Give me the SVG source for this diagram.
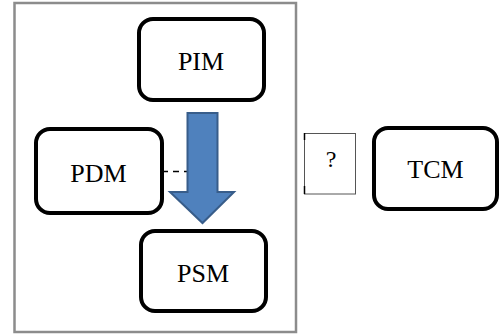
<svg xmlns="http://www.w3.org/2000/svg" width="501" height="335" viewBox="0 0 501 335">
  <style>
    .node { fill: #ffffff; stroke: #000000; stroke-width: 4; }
    .lbl { font-family: "Liberation Serif", "Times New Roman", serif; font-size: 26px; fill: #000000; text-anchor: middle; }
    .q { font-family: "Liberation Serif", "Times New Roman", serif; font-size: 24px; fill: #000000; text-anchor: middle; }
  </style>
  <rect width="501" height="335" fill="#ffffff"/>
  <g id="frame">
    <rect x="14.5" y="3" width="281.5" height="329" fill="#ffffff" stroke="#8c8c8c" stroke-width="2.5"/>
  </g>
  <g id="connectors">
    <line x1="162" y1="171.5" x2="187" y2="171.5" stroke="#000000" stroke-width="1.5" stroke-dasharray="6,5"/>
    <polygon points="187.5,113 217.5,113 217.5,192 234,192 202.5,223 170,192 187.5,192" fill="#4f81bd" stroke="#385d8a" stroke-width="2"/>
  </g>
  <g id="pim">
    <rect class="node" x="139" y="19" width="125" height="81" rx="14"/>
    <text class="lbl" x="201" y="70">PIM</text>
  </g>
  <g id="pdm">
    <rect class="node" x="36" y="129" width="126" height="84" rx="14"/>
    <text class="lbl" x="98.5" y="182">PDM</text>
  </g>
  <g id="psm">
    <rect class="node" x="141" y="231" width="125" height="80" rx="14"/>
    <text class="lbl" x="203" y="282">PSM</text>
  </g>
  <g id="question">
    <rect x="304.5" y="133.5" width="51" height="60.5" fill="#ffffff" stroke="#555555" stroke-width="1"/>
    <path d="M304.5,133 V140 M304.5,186 V194" stroke="#000000" stroke-width="1.5" fill="none"/>
    <text class="q" x="331" y="167">?</text>
  </g>
  <g id="tcm">
    <rect class="node" x="374" y="128" width="123" height="81" rx="14"/>
    <text class="lbl" x="435.5" y="178">TCM</text>
  </g>
</svg>
